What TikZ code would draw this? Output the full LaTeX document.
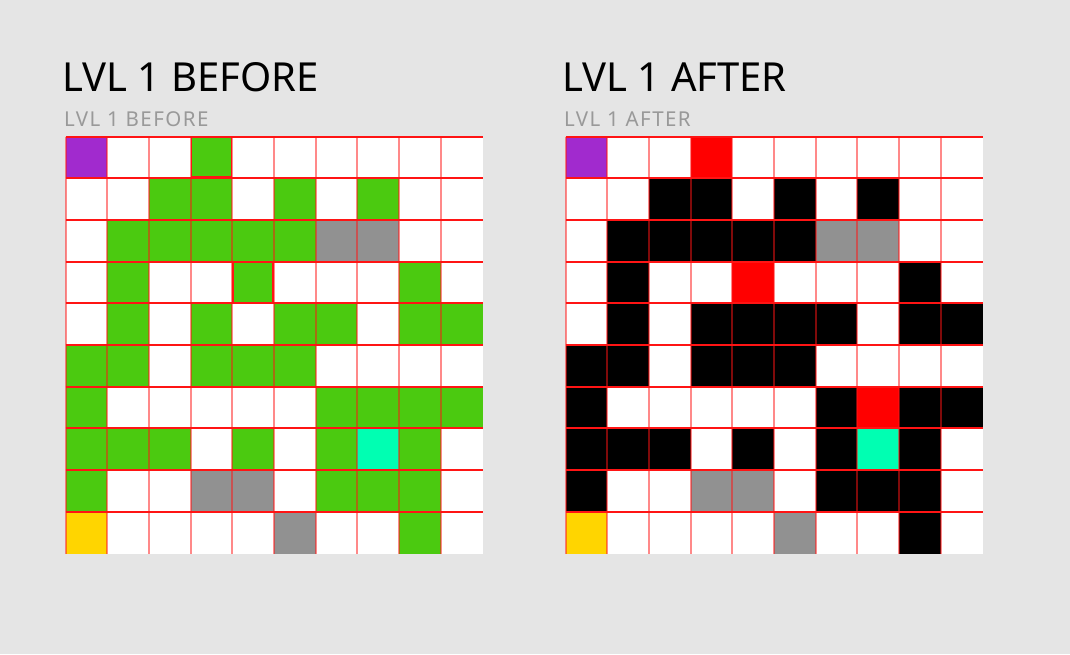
\documentclass[tikz,border=0pt]{standalone}
\usepackage{fontspec}
\setmainfont{Noto Sans}
\newfontfamily\subfont[LetterSpace=7]{Noto Sans}
\definecolor{bgc}{HTML}{E5E5E5}
\definecolor{cW}{HTML}{FFFFFF}
\definecolor{cP}{HTML}{A12ACE}
\definecolor{cG}{HTML}{4BCA10}
\definecolor{cT}{HTML}{00FFB2}
\definecolor{cY}{HTML}{FFD500}
\definecolor{cA}{HTML}{919191}
\definecolor{cR}{HTML}{FF0000}
\definecolor{cB}{HTML}{000000}
\definecolor{gridred}{HTML}{FF1414}
\definecolor{subgray}{HTML}{999999}
\tikzset{
  titletext/.style={anchor=base west, inner sep=0pt, font=\fontsize{40}{40}\selectfont, text=black},
  subtext/.style={anchor=base west, inner sep=0pt, font=\subfont\fontsize{20.5}{20.5}\selectfont, text=subgray},
  hline/.style={draw=gridred, line width=2pt},
  vline/.style={draw=gridred, draw opacity=0.5, line width=2pt},
  markbox/.style={draw=gridred, line width=1.8pt},
}
\newcommand{\cs}{41.7}
\newcommand{\drawgrid}[3]{%
  \foreach \row [count=\ri from 0] in {#3} {
    \foreach \cell [count=\ci from 0] in \row {
      \fill[c\cell] ({#1+\ci*\cs},{#2+\ri*\cs}) rectangle +(\cs,\cs);
    }
  }
  \foreach \k in {0,...,9} {
    \draw[vline] ({#1+\k*\cs},{#2}) -- +(0,{10*\cs});
  }
  \foreach \k in {0,...,9} {
    \draw[hline] ({#1},{#2+\k*\cs}) -- +({10*\cs},0);
  }
}
\begin{document}
\begin{tikzpicture}[x=1pt,y=-1pt]
\fill[bgc] (0,0) rectangle (1070,654);
\useasboundingbox (0,0) rectangle (1070,654);

\node[titletext] (t1) at (62,91.7) {LVL 1 BEFORE};
\node[subtext] (s1) at (64,126.5) {LVL 1 BEFORE};
\node[titletext] (t2) at (562,91.7) {LVL 1 AFTER};
\node[subtext] (s2) at (564,126.5) {LVL 1 AFTER};

\drawgrid{65.5}{136.5}{
 {P,W,W,G,W,W,W,W,W,W},
 {W,W,G,G,W,G,W,G,W,W},
 {W,G,G,G,G,G,A,A,W,W},
 {W,G,W,W,G,W,W,W,G,W},
 {W,G,W,G,W,G,G,W,G,G},
 {G,G,W,G,G,G,W,W,W,W},
 {G,W,W,W,W,W,G,G,G,G},
 {G,G,G,W,G,W,G,T,G,W},
 {G,W,W,A,A,W,G,G,G,W},
 {Y,W,W,W,W,A,W,W,G,W}}
\draw[markbox] ({65.5+3*\cs+0.9},{136.5+0.9}) rectangle +({\cs-1.8},{\cs-1.8});
\draw[markbox] ({65.5+4*\cs+0.9},{136.5+3*\cs+0.9}) rectangle +({\cs-1.8},{\cs-1.8});

\drawgrid{565.5}{136.5}{
 {P,W,W,R,W,W,W,W,W,W},
 {W,W,B,B,W,B,W,B,W,W},
 {W,B,B,B,B,B,A,A,W,W},
 {W,B,W,W,R,W,W,W,B,W},
 {W,B,W,B,B,B,B,W,B,B},
 {B,B,W,B,B,B,W,W,W,W},
 {B,W,W,W,W,W,B,R,B,B},
 {B,B,B,W,B,W,B,T,B,W},
 {B,W,W,A,A,W,B,B,B,W},
 {Y,W,W,W,W,A,W,W,B,W}}
\end{tikzpicture}
\end{document}
